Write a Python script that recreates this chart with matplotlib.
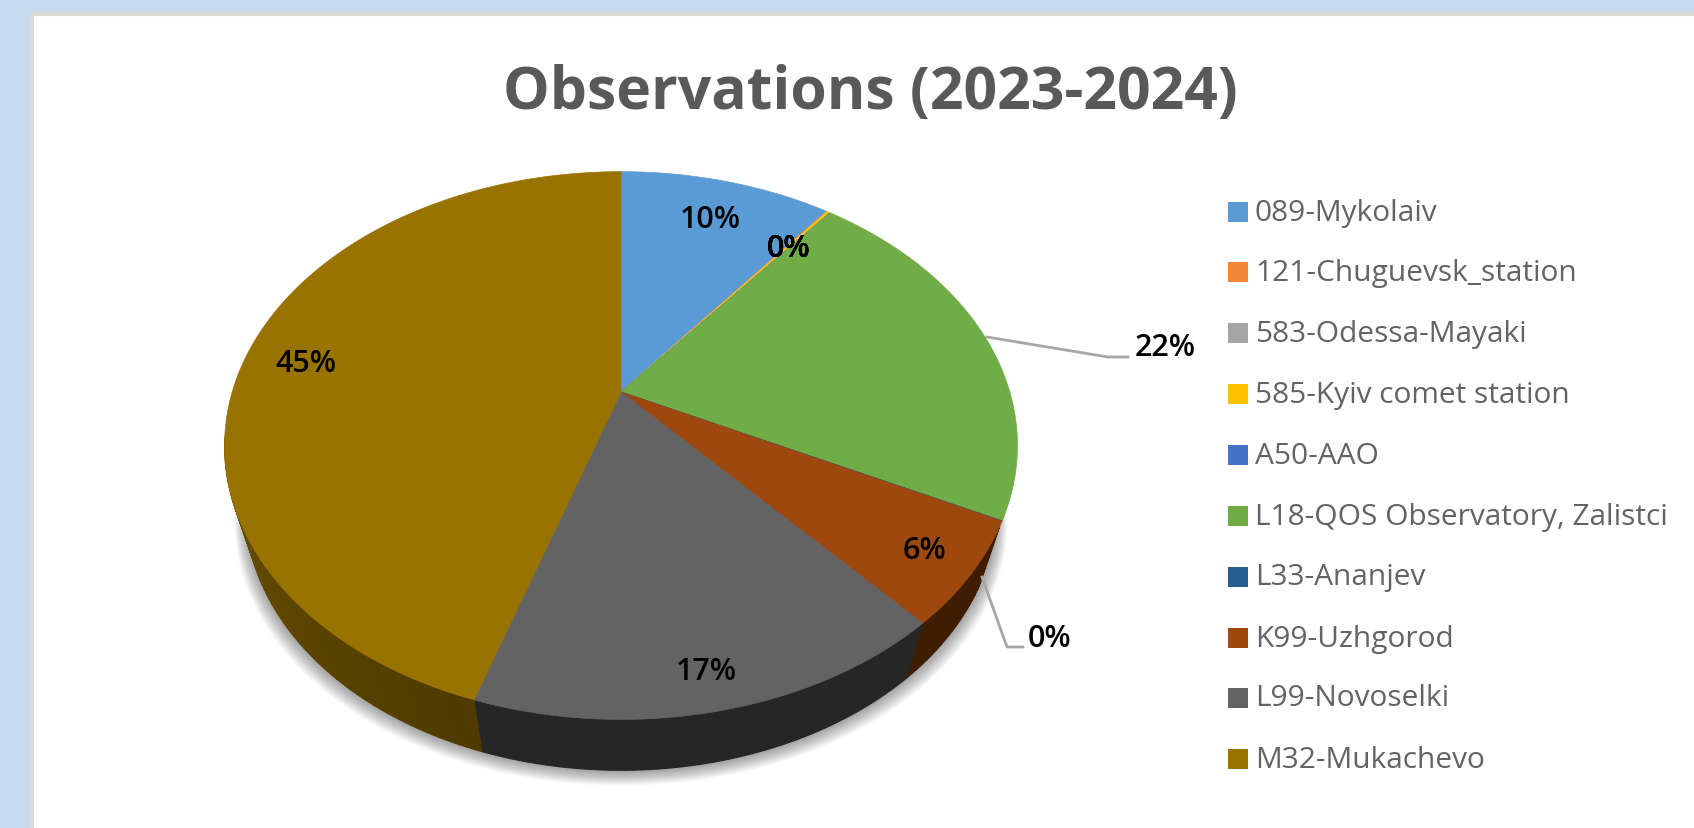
import numpy as np
import matplotlib
matplotlib.use('Agg')
import matplotlib.pyplot as plt
from matplotlib.patches import Polygon, Rectangle

plt.rcParams['font.family'] = ['Open Sans', 'DejaVu Sans']

stations = ['089-Mykolaiv', '121-Chuguevsk_station', '583-Odessa-Mayaki', '585-Kyiv comet station',
            'A50-AAO', 'L18-QOS Observatory, Zalistci', 'L33-Ananjev', 'K99-Uzhgorod',
            'L99-Novoselki', 'M32-Mukachevo']
shares = [10.45, 0.02, 0.02, 0.15, 0.02, 21.7, 0.02, 6.1, 16.5, 45.02]
colors = ['#5b9bd5', '#f58536', '#a5a5a5', '#ffc000', '#4472c4', '#70ad47', '#255e91', '#9e480e',
          '#636363', '#997300']
side_colors = ['#2f5373', '#7a3f18', '#555555', '#806300', '#233b66', '#3a5a24', '#12304a', '#3f1d00',
               '#262626', '#4f3b00']

# where the percent labels sit, in pixels
label_text = ['10%', '0%', '0%', '0%', '0%', '22%', '0%', '6%', '17%', '45%']
label_x = [710, 789, 789, 789, 789, 1165, 1050, 924, 706, 306]
label_y = [220, 249, 249, 249, 249, 348, 639, 551, 672, 364]

W, H = 1694, 829
fig = plt.figure(figsize=(W / 100, H / 100), dpi=100, facecolor='#c6dbef')
ax = fig.add_axes([0, 0, 1, 1])
ax.set_xlim(0, W)
ax.set_ylim(H, 0)
ax.axis('off')

ax.add_patch(Rectangle((32, 15), W, H, fc='white', ec='#dcdad6', lw=3, zorder=0))

# tilted circle, apex is not in the middle of the rim ellipse (perspective)
cx, cy = 621, 393
k, p, q = 0.1955, 263.4, 388.8


def project(deg):
    t = np.radians(deg)
    x, y = np.sin(t), np.cos(t)
    w = 1 + k * y
    return cx + q * x / w, cy - p * y / w


def lower_rim(deg):
    # bottom of the pie is further away so a bit smaller than the top
    x, y = project(deg)
    return cx + (x - cx) * 0.947, cy + (y - cy) * 0.96 + 64


# soft shadow under the pie
sx, sy = lower_rim(np.linspace(0, 360, 361))
for g in range(16, 0, -1):
    ax.fill(cx + (sx - cx) * (1 + 0.0018 * g), sy + 1 + g * 0.9, color='black', alpha=0.022, lw=0, zorder=1)

edges = np.cumsum([0] + shares) / sum(shares) * 360

# side wall, split in thin strips for the shading. only the front part shows
for i in range(len(shares)):
    angs = np.linspace(edges[i], edges[i + 1], max(int(edges[i + 1] - edges[i]), 2))
    for a0, a1 in zip(angs[:-1], angs[1:]):
        mid = (a0 + a1) / 2
        if mid < 118 or mid > 260:
            continue
        x0, y0 = project(a0)
        x1, y1 = project(a1)
        bx0, by0 = lower_rim(a0)
        bx1, by1 = lower_rim(a1)
        c = np.array(matplotlib.colors.to_rgb(side_colors[i]))
        shade = 1 + 0.4 * max(0, mid - 200) / 70 if mid > 200 else 1
        c = np.clip(c * shade, 0, 1)
        ax.add_patch(Polygon([(x0, y0), (x1, y1), (bx1, by1), (bx0, by0)],
                             fc=c, ec=c, lw=0.8, zorder=2))

# top face
for i in range(len(shares)):
    angs = np.linspace(edges[i], edges[i + 1], 200)
    x, y = project(angs)
    pts = np.column_stack([np.r_[cx, x], np.r_[cy, y]])
    ax.add_patch(Polygon(pts, fc=colors[i], ec=colors[i], lw=0.5, zorder=3))

# leader lines
line_color = '#a6a6a6'
ax.plot([987, 1108, 1128], [338, 358, 358], color=line_color, lw=2, zorder=2.5)
ax.plot([982, 1007, 1023], [578, 648, 648], color=line_color, lw=2, zorder=2.5)

for t, x, y in zip(label_text, label_x, label_y):
    ax.text(x, y, t, ha='center', va='center', fontsize=22, color='black', fontweight='semibold', zorder=5)

ax.text(870, 93, 'Observations (2023-2024)', ha='center', va='center', fontsize=42.4,
        fontweight='bold', color='#595959')

# legend drawn by hand to keep the wide row spacing
legend_y = [213, 273, 334, 395, 456, 517, 578, 639, 699, 760]
for name, col, y in zip(stations, colors, legend_y):
    ax.add_patch(Rectangle((1228, y - 10), 20, 20, fc=col, ec='none', zorder=4))
    ax.text(1255, y, name, ha='left', va='center', fontsize=21.5, color='#636363')

fig.savefig('out.png', dpi=100, facecolor=fig.get_facecolor())
